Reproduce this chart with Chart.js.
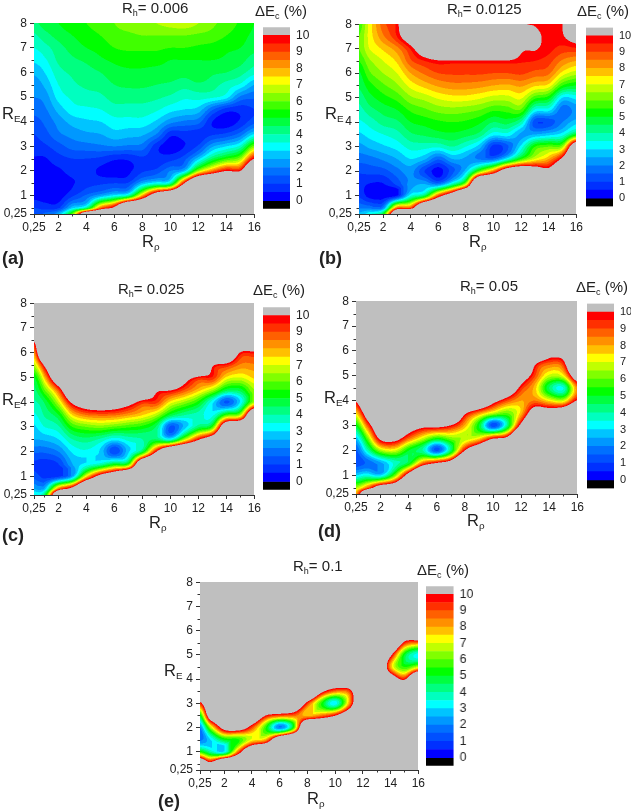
<!DOCTYPE html>
<html>
<head>
<meta charset="utf-8">
<title>Delta Ec maps</title>
<script src="https://cdn.jsdelivr.net/npm/chart.js@4/dist/chart.umd.min.js"></script>
<style>
  html, body { margin: 0; padding: 0; background: #fff; }
  #page { position: relative; width: 631px; height: 812px; overflow: hidden; font-family: "Liberation Sans", Arial, sans-serif; color: #222; filter: blur(0.4px); }
  canvas { position: absolute; }
  .txt { position: absolute; white-space: nowrap; line-height: 1; }
  .title { font-size: 15px; }
  .unit { font-size: 15px; }
  .axis { font-size: 16.5px; }
  .tag { font-size: 18px; font-weight: bold; }
  sub { font-size: 60%; line-height: 0; vertical-align: -0.35em; }
</style>
</head>
<body>
<div id="page"></div>
<script>
// grid the values were read on
var xGrid = [0.25, 1, 2, 3, 4, 5, 6, 7, 8, 9, 10, 11, 12, 13, 14, 15, 16];
var yGrid = [8, 7.5, 7, 6.5, 6, 5.5, 5, 4.5, 4, 3.5, 3, 2.5, 2, 1.5, 1, 0.5, 0.25];

var xTickValues = [0.25, 2, 4, 6, 8, 10, 12, 14, 16];
var xTickLabels = ["0,25", "2", "4", "6", "8", "10", "12", "14", "16"];
var xMinorTicks = [1, 3, 5, 7, 9, 11, 13, 15];
var yTickValues = [0.25, 1, 2, 3, 4, 5, 6, 7, 8];
var yTickLabels = ["0,25", "1", "2", "3", "4", "5", "6", "7", "8"];
var yMinorTicks = [0.5, 1.5, 2.5, 3.5, 4.5, 5.5, 6.5, 7.5];

var barTicks = [0, 1, 2, 3, 4, 5, 6, 7, 8, 9, 10];
var bandColors = ["#0000ff", "#0030ff", "#0050ff", "#0070ff", "#0098ff", "#00c4ff", "#00ffff", "#00ffc0", "#00ff80", "#00ff40",
  "#00ff00", "#40ff00", "#80ff00", "#c0ff00", "#ffff00", "#ffc000", "#ff9000", "#ff6000", "#ff3000", "#ff0000"];
var belowColor = "#000000";
var aboveColor = "#bfbfbf";

// dEc (%) per xGrid column, top of the plot first
var ecA = [
  [4.4,3.9,3.5,3.1,2.6,2.2,2,1.7,1.3,1,.8,.45,.3,.3,.3,1,1.3],
  [4.7,4.3,3.8,3.4,3,2.6,2.2,1.9,1.6,1.3,.9,.45,.3,.2,.2,.8,1.6],
  [5,4.7,4.3,4.1,3.8,3.5,3.2,2.7,2.2,1.9,1.3,.8,.4,.2,.2,.9,2.5],
  [5.3,5,4.7,4.4,4.1,3.9,3.6,3.3,2.7,2.2,1.7,1,.7,.45,.9,2.8,6],
  [5.5,5.3,5,4.6,4.3,4.1,3.8,3.4,2.9,2.4,1.8,1,.7,.8,1.6,4,13],
  [5.7,5.5,5.2,4.9,4.5,4.2,3.9,3.5,3,2.5,1.9,.9,.4,.9,2.4,8.5,14],
  [6,5.8,5.5,5.1,4.8,4.5,4.2,3.8,3.3,2.8,2,.6,.25,1,3.2,10.5,14],
  [6.2,5.9,5.6,5.2,4.9,4.6,4.2,3.8,3.3,2.7,1.9,.6,.4,1.1,4,16,16],
  [6.3,6,5.6,5.2,4.9,4.6,4.2,3.8,3.3,2.6,1.8,.9,.9,2.6,8,16,16],
  [6.5,6,5.6,5.2,4.8,4.5,4.1,3.6,2.9,2,.7,.7,1.2,3.4,12,16,16],
  [6.7,6,5.5,5,4.8,4.4,3.9,3.2,2.2,.7,.2,.8,2,4,14,16,16],
  [6.8,6,5.5,5,4.7,4.2,3.6,3,1.9,.8,.5,1.3,2.8,10,16,16,16],
  [6.5,5.9,5.4,5,4.9,4.4,3.7,2.8,1.7,.7,1.1,2.8,6.5,15,16,16,16],
  [6.1,5.8,5.3,5,4.6,4.2,3.6,1.6,.5,.9,2.4,4.5,8.5,16,16,16,16],
  [5.8,5.5,5.1,4.9,4.5,3.8,3.2,.8,.2,1.1,3,5.5,10,16,16,16,16],
  [5.4,5.2,5,4.7,4.2,3.4,1.9,.7,.6,1.7,3.7,6.4,10,16,16,16,16],
  [5,4.9,4.7,4.2,3.7,2.5,1.6,1,1.3,3,6.2,10,15,16,16,16,16]
];
var ecB = [
  [5.6,6,6,5.5,4.9,4.6,4.2,3.8,3.4,2.9,2.3,1.7,1.1,.7,.9,1.9,2.6],
  [7.2,7.2,7,6.4,5.9,5.3,4.8,4.3,3.7,3.2,2.6,1.8,1.2,.5,.3,1.8,3.4],
  [8.8,8.4,7.6,7,6.5,5.9,5.3,4.7,4.2,3.5,2.9,2.1,1.3,.5,.2,2,5],
  [9.7,9.5,8.3,7.6,7,6.4,5.7,5,4.4,3.8,3.2,2.5,1.8,1.2,.5,8.5,14],
  [13,11.5,9.6,8.9,8,7.2,6.4,5.6,5,4.4,3.7,3,2.2,2.2,3.4,9,15],
  [15,14,11.5,9.5,8.6,7.7,6.7,5.9,5.2,4.6,3.7,2.6,1,2.4,4.6,15,16],
  [16,15,13,9.9,9,8.1,7.1,6.2,5.4,4.8,3.6,1.6,.3,1.7,9,16,16],
  [16,16,14,9.9,9.1,8.3,7.3,6.3,5.5,4.9,4,2.5,1.3,3.5,12,16,16],
  [16,16,14,9.9,9.1,8.3,7.3,6.2,5.4,4.7,3.5,2.4,2.8,6.5,16,16,16],
  [16,16,14,9.9,9.1,8.2,7.1,6,5.1,4.3,2.7,1.9,6,16,16,16,16],
  [16,16,14,9.9,9,8,6.8,5.6,4.5,3.2,.8,1.7,8.5,16,16,16,16],
  [16,16,14,9.9,9,7.9,6.8,5.7,4.7,3.3,1.4,3.3,12,16,16,16,16],
  [10.7,14,10.6,9.6,9.1,8.1,7.1,5.9,3.9,2.4,3.2,5.5,13,16,16,16,16],
  [9.9,10.6,10.1,9.5,8.8,7.6,5.7,3.4,1.2,2.5,5.5,7,12,16,16,16,16],
  [9.8,9.8,9.7,9.2,8.6,7.3,5.2,3.2,1.2,2.8,6,8,11,16,16,16,16],
  [10,9.9,9.3,8.4,7.3,5.5,3,1.7,2,3.3,6.5,10.5,14,16,16,16,16],
  [14,11,9.4,8,6.7,5,3.2,2.2,2.8,5,13,16,16,16,16,16,16]
];
var ecC = [
  [16,16,16,10.4,8.2,6.6,4.9,4.3,3.9,3.4,2.9,2.5,1.6,.9,1.3,2.5,3.5],
  [16,16,16,16,15,10.4,7.8,6,4.6,4.1,3.5,2.6,1.6,.7,.8,2.6,4.5],
  [16,16,16,16,16,16,13,9,6.8,5,3.9,3,2,1,.9,8.5,14],
  [16,16,16,16,16,16,16,14,10.4,7.6,5.5,4,3.1,2.5,2.5,11,16],
  [16,16,16,16,16,16,16,16,12,8.6,6,4.3,3.4,3.2,7.5,16,16],
  [16,16,16,16,16,16,16,16,12.5,8.8,6.2,3.9,2.9,3.8,11,16,16],
  [16,16,16,16,16,16,16,16,12,8.7,5.9,3.2,1.1,5,13,16,16],
  [16,16,16,16,16,16,16,16,11,8.2,5.6,3.7,2.9,5.6,16,16,16],
  [16,16,16,16,16,16,16,14,9.4,7.6,5.3,4,4.8,14,16,16,16],
  [16,16,16,16,16,16,16,10.6,9.2,6.7,4.4,4.5,10,16,16,16,16],
  [16,16,16,16,16,16,15,10.2,7.3,4.9,1.4,3.4,14.4,16,16,16,16],
  [16,16,16,16,16,16,11.4,9,6.4,4.1,2.7,6.5,16,16,16,16,16],
  [16,16,16,16,16,16,9.7,7.8,5.3,3.8,4.4,9.7,16,16,16,16,16],
  [16,16,16,16,16,10.4,9.4,6.6,3.2,3.3,5.6,12,16,16,16,16,16],
  [16,16,16,16,14,9.5,7.4,4.8,1.4,5.5,13,16,16,16,16,16,16],
  [16,16,16,14,9.9,8.4,7,4.8,3.1,6.5,14,16,16,16,16,16,16],
  [16,16,16,14,9.7,8.4,7.6,6.5,6.5,14,16,16,16,16,16,16,16]
];
var ecD = [
  [16,16,16,16,16,16,16,14,10.3,7.5,5,2.8,1.4,1.1,3,6.5,8],
  [16,16,16,16,16,16,16,16,14,11.4,8.5,5.8,3.6,1.6,3.5,8.5,14],
  [16,16,16,16,16,16,16,16,16,16,13,10.6,6.5,2.4,3,11.8,16],
  [16,16,16,16,16,16,16,16,16,16,14,11,7,3.7,6,12.7,16],
  [16,16,16,16,16,16,16,16,16,16,12,8.8,5,4.8,11.3,16,16],
  [16,16,16,16,16,16,16,16,16,16,10.8,7,4,8.5,16,16,16],
  [16,16,16,16,16,16,16,16,16,16,10.8,5.5,1.4,10,16,16,16],
  [16,16,16,16,16,16,16,16,16,15,9.9,6.3,4.5,11.4,16,16,16],
  [16,16,16,16,16,16,16,16,16,10.4,7.9,6.6,10,16,16,16,16],
  [16,16,16,16,16,16,16,16,14,8.3,5,7.3,13,16,16,16,16],
  [16,16,16,16,16,16,16,16,11,6.8,1.2,9.6,16,16,16,16,16],
  [16,16,16,16,16,16,16,13,9,6,4.2,10.6,16,16,16,16,16],
  [16,16,16,16,16,16,12,9.4,8,7.8,10.8,16,16,16,16,16,16],
  [16,16,16,16,16,10.4,9,7.7,8.5,12,16,16,16,16,16,16,16],
  [16,16,16,16,12,8.8,6.8,4.5,7.4,12,16,16,16,16,16,16,16],
  [16,16,16,16,12,9.4,7.2,3.5,6.9,13,16,16,16,16,16,16,16],
  [16,16,16,16,16,16,12,8.4,10.2,16,16,16,16,16,16,16,16]
];
var ecE = [
  [16,16,16,16,16,16,16,16,16,14,9.4,5,2,1.8,5.5,14,16],
  [16,16,16,16,16,16,16,16,16,16,14,12,6.5,3,4,11,16],
  [16,16,16,16,16,16,16,16,16,16,16,14,11,5,3.2,16,16],
  [16,16,16,16,16,16,16,16,16,16,16,16,11.6,5.4,8.7,16,16],
  [16,16,16,16,16,16,16,16,16,16,16,14,9,7.2,14,16,16],
  [16,16,16,16,16,16,16,16,16,16,16,10,5.5,8,16,16,16],
  [16,16,16,16,16,16,16,16,16,16,16,9,2,13.4,16,16,16],
  [16,16,16,16,16,16,16,16,16,16,14,8.7,5.5,16,16,16,16],
  [16,16,16,16,16,16,16,16,16,16,9.3,7.8,16,16,16,16,16],
  [16,16,16,16,16,16,16,16,16,10.8,5.5,8.5,16,16,16,16,16],
  [16,16,16,16,16,16,16,16,14,8.6,3.2,9.9,16,16,16,16,16],
  [16,16,16,16,16,16,16,16,15,9,8,13,16,16,16,16,16],
  [16,16,16,16,16,16,16,16,16,15,15,16,16,16,16,16,16],
  [16,16,16,16,16,16,16,16,16,16,16,16,16,16,16,16,16],
  [16,16,16,16,16,15,10.5,8,12.6,16,16,16,16,16,16,16,16],
  [16,16,16,16,14,9.5,5,5.5,9.7,16,16,16,16,16,16,16,16],
  [16,16,16,16,16,8.5,3.2,6.8,16,16,16,16,16,16,16,16,16]
];

var panels = [
  { ec: ecA, left: 34.3, top: 21.7, w: 220.7, h: 192.6, barLeft: 263, barW: 27, barTop: 22, barH: 192, barFont: 12 },
  { ec: ecB, left: 359.7, top: 22.3, w: 217.6, h: 191.7, barLeft: 586, barW: 27, barTop: 22.5, barH: 188, barFont: 11 },
  { ec: ecC, left: 34.3, top: 301.7, w: 220.7, h: 193.3, barLeft: 263, barW: 27, barTop: 301.7, barH: 192.5, barFont: 12 },
  { ec: ecD, left: 356.7, top: 299, w: 221.3, h: 194.3, barLeft: 586.7, barW: 27, barTop: 299, barH: 194, barFont: 11 },
  { ec: ecE, left: 200, top: 580.7, w: 218.3, h: 190, barLeft: 425.7, barW: 27.6, barTop: 580.7, barH: 190, barFont: 12 }
];

var labels = [
  ["title", 122, 0, "R<sub>h</sub>= 0.006"], ["unit", 255, 3, "&Delta;E<sub>c</sub> (%)"],
  ["axis", 142, 233, "R<sub>&rho;</sub>"], ["axis", 2, 105, "R<sub>E</sub>"], ["tag", 2, 249, "(a)"],
  ["title", 447, 1, "R<sub>h</sub>= 0.0125"], ["unit", 577, 3, "&Delta;E<sub>c</sub> (%)"],
  ["axis", 469, 233, "R<sub>&rho;</sub>"], ["axis", 325, 105, "R<sub>E</sub>"], ["tag", 319, 249, "(b)"],
  ["title", 118, 281, "R<sub>h</sub>= 0.025"], ["unit", 253, 282, "&Delta;E<sub>c</sub> (%)"],
  ["axis", 149, 514, "R<sub>&rho;</sub>"], ["axis", 2, 391, "R<sub>E</sub>"], ["tag", 2, 526, "(c)"],
  ["title", 460, 278, "R<sub>h</sub>= 0.05"], ["unit", 576, 279, "&Delta;E<sub>c</sub> (%)"],
  ["axis", 467, 512, "R<sub>&rho;</sub>"], ["axis", 324, 389, "R<sub>E</sub>"], ["tag", 318, 522, "(d)"],
  ["title", 293, 558, "R<sub>h</sub>= 0.1"], ["unit", 417, 562, "&Delta;E<sub>c</sub> (%)"],
  ["axis", 307, 790, "R<sub>&rho;</sub>"], ["axis", 164, 662, "R<sub>E</sub>"], ["tag", 158, 792, "(e)"]
];

function colorFor(v) {
  if (v < 0) return belowColor;
  if (v >= 10) return aboveColor;
  return bandColors[Math.floor(v * 2)];
}

function hexToRgb(c) {
  return [parseInt(c.substr(1, 2), 16), parseInt(c.substr(3, 2), 16), parseInt(c.substr(5, 2), 16)];
}

function fracIndex(list, val) {
  var asc = list[0] < list[list.length - 1];
  for (var i = 0; i < list.length - 1; i++) {
    var a = list[i], b = list[i + 1];
    if (asc ? val <= b : val >= b) return i + (val - a) / (b - a);
  }
  return list.length - 1;
}

// cubic between p1 and p2, clamped to the neighbours so cliffs don't ring
function cubic(p0, p1, p2, p3, t) {
  var v = p1 + 0.5 * t * (p2 - p0 + t * (2 * p0 - 5 * p1 + 4 * p2 - p3 + t * (3 * (p1 - p2) + p3 - p0)));
  var lo = Math.max(0.02, Math.min(p0, p1, p2, p3) - 0.2), hi = Math.max(p0, p1, p2, p3) + 0.2;
  return v < lo ? lo : v > hi ? hi : v;
}

function sampleGrid(cols, fx, fy) {
  var nx = cols.length, ny = cols[0].length;
  var ix = Math.min(Math.floor(fx), nx - 2), iy = Math.min(Math.floor(fy), ny - 2);
  var tx = fx - ix, ty = fy - iy, r = [];
  for (var j = -1; j <= 2; j++) {
    var row = Math.max(0, Math.min(ny - 1, iy + j));
    r.push(cubic(cols[Math.max(0, ix - 1)][row], cols[ix][row], cols[ix + 1][row], cols[Math.min(nx - 1, ix + 2)][row], tx));
  }
  return cubic(r[0], r[1], r[2], r[3], ty);
}

// fills the plot area with the contour bands, positions come from the chart scales
var contourPlugin = {
  id: "contourBands",
  beforeDatasetsDraw: function(chart, args, opts) {
    var area = chart.chartArea, sx = chart.scales.x, sy = chart.scales.y;
    var x0 = Math.round(area.left), y0 = Math.round(area.top);
    var w = Math.round(area.right) - x0, h = Math.round(area.bottom) - y0;
    var img = chart.ctx.createImageData(w, h);
    var offs = [0.25, 0.75];
    for (var py = 0; py < h; py++) {
      for (var px = 0; px < w; px++) {
        var r = 0, g = 0, b = 0;
        for (var a = 0; a < 2; a++) {
          for (var c = 0; c < 2; c++) {
            var fx = fracIndex(xGrid, sx.getValueForPixel(x0 + px + offs[a]));
            var fy = fracIndex(yGrid, sy.getValueForPixel(y0 + py + offs[c]));
            var rgb = hexToRgb(colorFor(sampleGrid(opts.columns, fx, fy)));
            r += rgb[0]; g += rgb[1]; b += rgb[2];
          }
        }
        var k = (py * w + px) * 4;
        img.data[k] = r / 4; img.data[k + 1] = g / 4; img.data[k + 2] = b / 4; img.data[k + 3] = 255;
      }
    }
    chart.ctx.putImageData(img, x0, y0);
  },
  afterDraw: function(chart) {
    var ctx = chart.ctx, sx = chart.scales.x, sy = chart.scales.y, area = chart.chartArea;
    ctx.save();
    ctx.strokeStyle = "#333";
    ctx.lineWidth = 1;
    ctx.beginPath();
    xMinorTicks.forEach(function(v) {
      var p = Math.round(sx.getPixelForValue(v)) + 0.5;
      ctx.moveTo(p, area.bottom); ctx.lineTo(p, area.bottom + 2.5);
    });
    yMinorTicks.forEach(function(v) {
      var p = Math.round(sy.getPixelForValue(v)) + 0.5;
      ctx.moveTo(area.left, p); ctx.lineTo(area.left - 2.5, p);
    });
    ctx.stroke();
    ctx.restore();
  }
};

var page = document.getElementById("page");

function addCanvas(left, top, w, h) {
  var cv = document.createElement("canvas");
  cv.width = w; cv.height = h;
  cv.style.left = left + "px"; cv.style.top = top + "px";
  cv.style.width = w + "px"; cv.style.height = h + "px";
  page.appendChild(cv);
  return cv;
}

var tickFont = { family: "'Liberation Sans', Arial, sans-serif", size: 12 };

function drawPlot(p) {
  var padL = 34, padT = 8, padR = 8, padB = 22;
  var cv = addCanvas(Math.floor(p.left) - padL, Math.floor(p.top) - padT, Math.ceil(p.w) + padL + padR, Math.ceil(p.h) + padT + padB);
  var points = [];
  xGrid.forEach(function(x, i) {
    yGrid.forEach(function(y, j) { points.push({ x: x, y: y, v: p.ec[i][j] }); });
  });
  new Chart(cv, {
    type: "scatter",
    data: { datasets: [{ data: points, pointRadius: 0, showLine: false }] },
    options: {
      responsive: false,
      animation: false,
      events: [],
      layout: { padding: { left: 0, top: padT, right: padR, bottom: 0 } },
      plugins: {
        legend: { display: false },
        tooltip: { enabled: false },
        contourBands: { columns: p.ec }
      },
      scales: {
        x: {
          type: "linear", min: 0.25, max: 16,
          afterBuildTicks: function(s) { s.ticks = xTickValues.map(function(v) { return { value: v }; }); },
          afterFit: function(s) { s.height = padB; },
          grid: { drawOnChartArea: false, tickLength: 4, color: "#333", tickColor: "#333" },
          border: { color: "#333" },
          ticks: { autoSkip: false, maxRotation: 0, color: "#222", font: tickFont, padding: 2,
            callback: function(v, i) { return xTickLabels[i]; } }
        },
        y: {
          type: "linear", min: 0.25, max: 8,
          afterBuildTicks: function(s) { s.ticks = yTickValues.map(function(v) { return { value: v }; }); },
          afterFit: function(s) { s.width = padL; },
          grid: { drawOnChartArea: false, tickLength: 4, color: "#333", tickColor: "#333" },
          border: { color: "#333" },
          ticks: { autoSkip: false, color: "#222", font: tickFont, padding: 3,
            callback: function(v, i) { return yTickLabels[i]; } }
        }
      }
    },
    plugins: [contourPlugin]
  });
}

function drawColorBar(p) {
  var padT = 8, labelW = 24;
  var cv = addCanvas(Math.round(p.barLeft), Math.round(p.barTop) - padT, p.barW + labelW, Math.round(p.barH) + padT * 2);
  var sets = bandColors.map(function(c, i) {
    return { data: [[i / 2, i / 2 + 0.5]], backgroundColor: c };
  });
  sets.push({ data: [[-0.5, 0]], backgroundColor: belowColor });
  sets.push({ data: [[10, 10.5]], backgroundColor: aboveColor });
  sets.forEach(function(s) { s.barPercentage = 1; s.categoryPercentage = 1; s.borderWidth = 0; });
  new Chart(cv, {
    type: "bar",
    data: { labels: [""], datasets: sets },
    options: {
      responsive: false,
      animation: false,
      events: [],
      layout: { padding: { top: padT, bottom: padT, left: 0, right: 0 } },
      plugins: { legend: { display: false }, tooltip: { enabled: false } },
      scales: {
        x: { stacked: true, display: false },
        y: {
          position: "right", min: -0.5, max: 10.5,
          afterBuildTicks: function(s) { s.ticks = barTicks.map(function(v) { return { value: v }; }); },
          afterFit: function(s) { s.width = labelW; },
          grid: { display: false, drawTicks: false },
          border: { display: false },
          ticks: { color: "#222", font: { family: tickFont.family, size: p.barFont }, padding: 6, autoSkip: false }
        }
      }
    }
  });
}

panels.forEach(function(p) {
  drawPlot(p);
  drawColorBar(p);
});

labels.forEach(function(l) {
  var d = document.createElement("div");
  d.className = "txt " + l[0];
  d.style.left = l[1] + "px";
  d.style.top = l[2] + "px";
  d.innerHTML = l[3];
  page.appendChild(d);
});
</script>
</body>
</html>
